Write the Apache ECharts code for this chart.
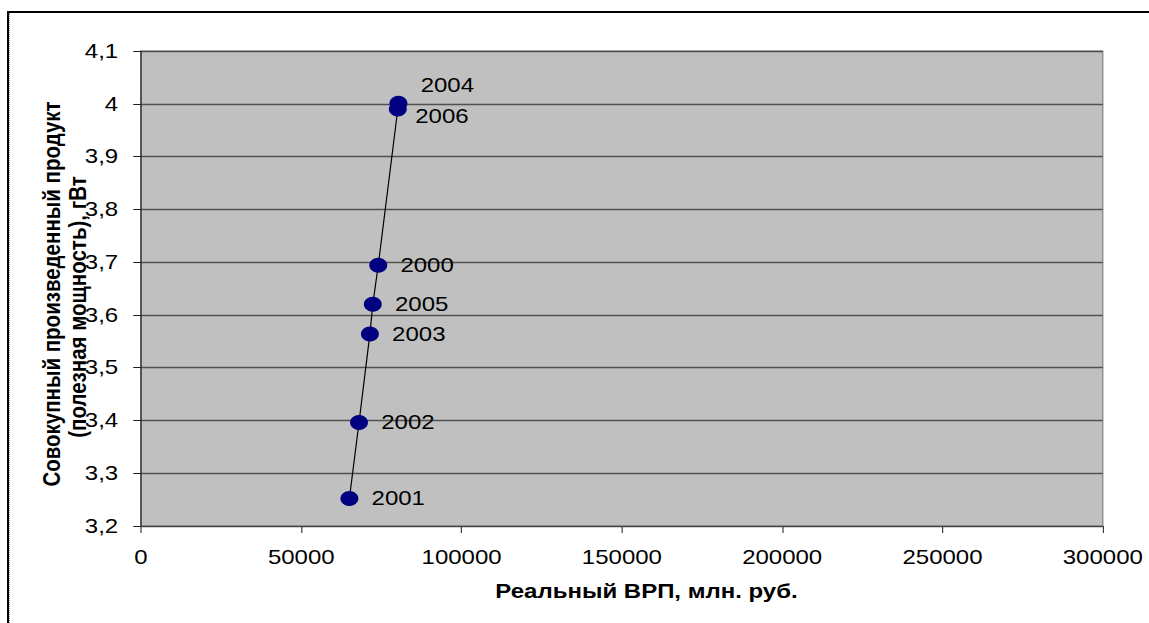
<!DOCTYPE html>
<html>
<head>
<meta charset="utf-8">
<script src="https://cdn.jsdelivr.net/npm/echarts@6/dist/echarts.min.js"></script>
<style>
html,body{margin:0;padding:0;width:1149px;height:623px;overflow:hidden;background:#fff;}
#chart{position:absolute;left:0;top:0;width:957.5px;height:623px;transform:scaleX(1.2);transform-origin:0 0;}
#frameTop{position:absolute;left:7px;top:11px;width:1142px;height:0;border-top:2px solid #000;}
#frameLeft{position:absolute;left:7px;top:11px;width:0;height:612px;border-left:2px solid #000;}
#frameDots{position:absolute;left:9px;top:13px;width:0;height:610px;border-left:1px dotted #9a9a9a;}
</style>
</head>
<body>
<div id="chart"></div>
<div id="frameTop"></div>
<div id="frameLeft"></div>
<div id="frameDots"></div>
<script>
// ---- data ----
const years = ['2000', '2001', '2002', '2003', '2004', '2005', '2006'];
const vrp   = [74000, 65000, 68000, 71400, 80300, 72300, 80100];   // Реальный ВРП, млн. руб.
const power = [3.694, 3.252, 3.396, 3.564, 4.001, 3.620, 3.990];   // гВт

const xTitle = 'Реальный ВРП, млн. руб.';
const yTitleLine1 = 'Совокупный произведенный продукт';
const yTitleLine2 = '(полезная мощность), гВт';

// label position tweaks (style only)
const labelShift = { '2004': [0, -18], '2006': [-4, 7] };

const FONT = '"Liberation Sans", Arial, sans-serif';

const order = years.map((_, i) => i).sort((a, b) => vrp[a] - vrp[b]);
const seriesData = order.map(i => {
  const d = { name: years[i], value: [vrp[i], power[i]] };
  if (labelShift[years[i]]) d.label = { offset: labelShift[years[i]] };
  return d;
});

const titleStyle = { fontFamily: FONT, fontSize: 20.5, fontWeight: 'bold', color: '#000', lineHeight: 22 };

const chart = echarts.init(document.getElementById('chart'), null, { renderer: 'svg' });
chart.setOption({
  animation: false,
  backgroundColor: 'transparent',
  grid: {
    left: 117.5, right: 39, top: 51, bottom: 97,
    show: true, backgroundColor: '#c0c0c0', borderColor: '#808080', borderWidth: 1
  },
  xAxis: {
    type: 'value', min: 0, max: 300000, interval: 50000,
    name: xTitle, nameLocation: 'middle', nameGap: 55, nameMoveOverlap: false,
    nameTextStyle: { fontFamily: FONT, fontSize: 20, fontWeight: 'bold', color: '#000', padding: [0, 0, 0, 41] },
    axisLine: { show: true, lineStyle: { color: '#404040', width: 1 } },
    axisTick: { show: true, length: 7, lineStyle: { color: '#404040' } },
    axisLabel: { margin: 21, fontFamily: FONT, fontSize: 20, color: '#000', formatter: v => String(v) },
    splitLine: { show: false }
  },
  yAxis: {
    type: 'value', min: 3.2, max: 4.1, interval: 0.1,
    name: '{a|' + yTitleLine1 + '}\n{a|' + yTitleLine2 + '}{s|}',
    nameLocation: 'middle', nameRotate: 90, nameGap: 41.5, nameMoveOverlap: false,
    nameTextStyle: Object.assign({}, titleStyle, {
      align: 'center', padding: [0, 11, 0, 0],
      rich: { a: titleStyle, s: { width: 26, lineHeight: 22 } }
    }),
    axisLine: { show: true, onZero: false, lineStyle: { color: '#202020', width: 1 } },
    axisTick: { show: true, length: 6.5, lineStyle: { color: '#202020' } },
    axisLabel: { margin: 19, fontFamily: FONT, fontSize: 20, color: '#000',
      formatter: v => String(Number(v.toFixed(1))).replace('.', ',') },
    splitLine: { show: true, lineStyle: { color: '#505050', width: 1.3 } }
  },
  series: [{
    type: 'line',
    data: seriesData,
    symbol: 'circle',
    symbolSize: 15,
    itemStyle: { color: '#000080' },
    lineStyle: { color: '#000', width: 1 },
    label: {
      show: true, position: 'right', distance: 11,
      fontFamily: FONT, fontSize: 20, color: '#000',
      formatter: p => p.name
    },
    z: 3
  }]
});
</script>
</body>
</html>
